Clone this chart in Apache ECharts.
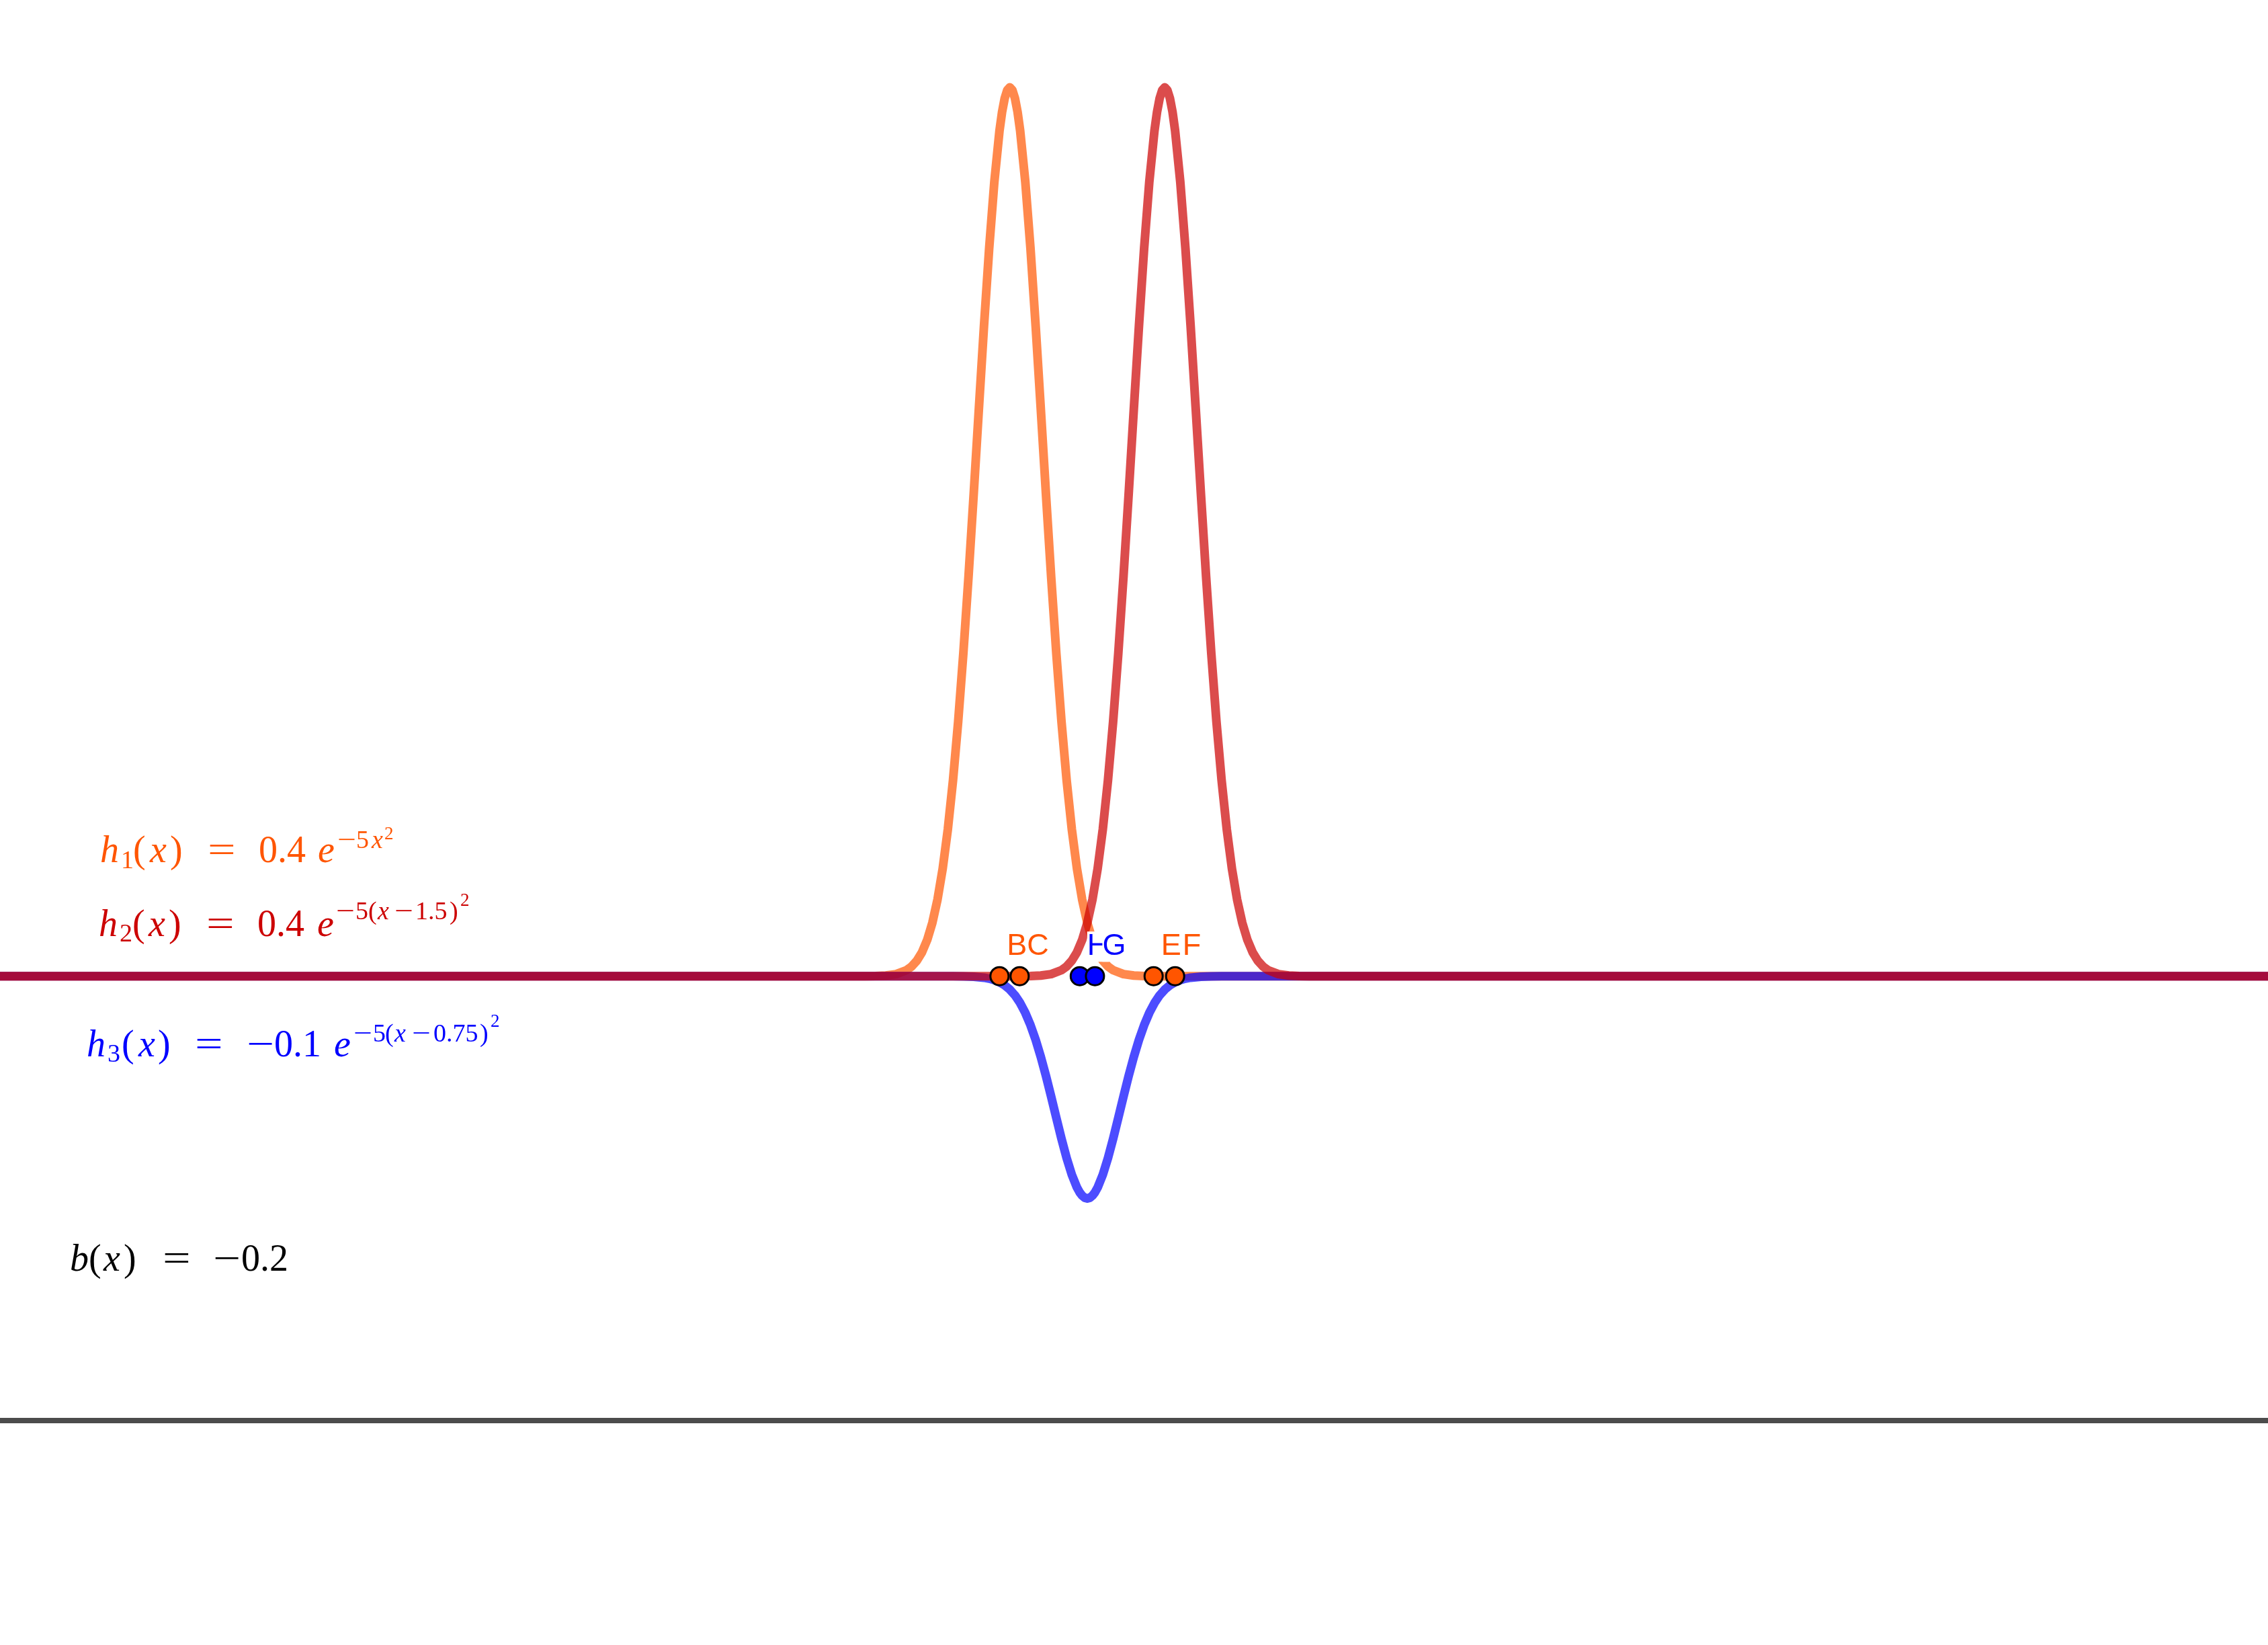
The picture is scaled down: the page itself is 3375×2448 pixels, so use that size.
<!DOCTYPE html>
<html>
<head>
<meta charset="utf-8">
<script src="https://cdn.jsdelivr.net/npm/echarts@6/dist/echarts.min.js"></script>
<style>
html,body{margin:0;padding:0;background:#fff;}
#main{width:3375px;height:2448px;}
</style>
</head>
<body>
<div id="main"></div>
<script>
// ---- data ----
const h1X = [-10, -1.4, -1.3, -1.2, -1.1, -1.0, -0.95, -0.9, -0.85, -0.8, -0.75, -0.7, -0.65, -0.6, -0.55, -0.5, -0.45, -0.4, -0.35, -0.3, -0.25, -0.2, -0.15, -0.1, -0.075, -0.05, -0.025, 0, 0.025, 0.05, 0.075, 0.1, 0.15, 0.2, 0.25, 0.3, 0.35, 0.4, 0.45, 0.5, 0.55, 0.6, 0.65, 0.7, 0.75, 0.8, 0.85, 0.9, 0.95, 1.0, 1.1, 1.2, 1.3, 1.4, 12.5];
const h1Y = [0, 0.00002, 0.00009, 0.0003, 0.00094, 0.0027, 0.00439, 0.00697, 0.01079, 0.0163, 0.02402, 0.03452, 0.04837, 0.06612, 0.08814, 0.1146, 0.14532, 0.17973, 0.2168, 0.25505, 0.29264, 0.32749, 0.35744, 0.38049, 0.38891, 0.39503, 0.39875, 0.4, 0.39875, 0.39503, 0.38891, 0.38049, 0.35744, 0.32749, 0.29264, 0.25505, 0.2168, 0.17973, 0.14532, 0.1146, 0.08814, 0.06612, 0.04837, 0.03452, 0.02402, 0.0163, 0.01079, 0.00697, 0.00439, 0.0027, 0.00094, 0.0003, 0.00009, 0.00002, 0];

const h2X = [-10, 0.1, 0.2, 0.3, 0.4, 0.5, 0.55, 0.6, 0.65, 0.7, 0.75, 0.8, 0.85, 0.9, 0.95, 1.0, 1.05, 1.1, 1.15, 1.2, 1.25, 1.3, 1.35, 1.4, 1.425, 1.45, 1.475, 1.5, 1.525, 1.55, 1.575, 1.6, 1.65, 1.7, 1.75, 1.8, 1.85, 1.9, 1.95, 2.0, 2.05, 2.1, 2.15, 2.2, 2.25, 2.3, 2.35, 2.4, 2.45, 2.5, 2.6, 2.7, 2.8, 2.9, 12.5];
const h2Y = [0, 0.00002, 0.00009, 0.0003, 0.00094, 0.0027, 0.00439, 0.00697, 0.01079, 0.0163, 0.02402, 0.03452, 0.04837, 0.06612, 0.08814, 0.1146, 0.14532, 0.17973, 0.2168, 0.25505, 0.29264, 0.32749, 0.35744, 0.38049, 0.38891, 0.39503, 0.39875, 0.4, 0.39875, 0.39503, 0.38891, 0.38049, 0.35744, 0.32749, 0.29264, 0.25505, 0.2168, 0.17973, 0.14532, 0.1146, 0.08814, 0.06612, 0.04837, 0.03452, 0.02402, 0.0163, 0.01079, 0.00697, 0.00439, 0.0027, 0.00094, 0.0003, 0.00009, 0.00002, 0];

const h3X = [-10, -0.65, -0.55, -0.45, -0.35, -0.25, -0.2, -0.15, -0.1, -0.05, 0, 0.05, 0.1, 0.15, 0.2, 0.25, 0.3, 0.35, 0.4, 0.45, 0.5, 0.55, 0.6, 0.65, 0.675, 0.7, 0.725, 0.75, 0.775, 0.8, 0.825, 0.85, 0.9, 0.95, 1.0, 1.05, 1.1, 1.15, 1.2, 1.25, 1.3, 1.35, 1.4, 1.45, 1.5, 1.55, 1.6, 1.65, 1.7, 1.75, 1.85, 1.95, 2.05, 2.15, 12.5];
const h3Y = [0, -0.000005, -0.00002, -0.00007, -0.00024, -0.00067, -0.0011, -0.00174, -0.0027, -0.00408, -0.00601, -0.00863, -0.01209, -0.01653, -0.02204, -0.02865, -0.03633, -0.04493, -0.0542, -0.06376, -0.07316, -0.08187, -0.08936, -0.09512, -0.09723, -0.09876, -0.09969, -0.1, -0.09969, -0.09876, -0.09723, -0.09512, -0.08936, -0.08187, -0.07316, -0.06376, -0.0542, -0.04493, -0.03633, -0.02865, -0.02204, -0.01653, -0.01209, -0.00863, -0.00601, -0.00408, -0.0027, -0.00174, -0.0011, -0.00067, -0.00024, -0.00007, -0.00002, -0.000005, 0];

const bX = [-10, 12.5];
const bY = [-0.2, -0.2];

const pointNames = ['B', 'C', 'H', 'G', 'E', 'F'];
const pointX = [-0.1, 0.095, 0.677, 0.824, 1.392, 1.6];
const pointY = [0, 0, 0, 0, 0, 0];

// ---- styles ----
const pointColors = ['#FF5500', '#FF5500', '#0000FF', '#0000FF', '#FF5500', '#FF5500'];
const X_MIN = -9.775, X_MAX = 12.179;
const Y_MIN = -0.30099, Y_MAX = 0.43931;

const mctx = document.createElement('canvas').getContext('2d');
function midToBase(font) {
  mctx.font = font;
  mctx.textBaseline = 'middle';
  return mctx.measureText('H').actualBoundingBoxDescent;
}
function zip(xs, ys) { return xs.map((x, i) => [x, ys[i]]); }

const M = '\u2212';
// formula text layout: [text, x, baseline, size, italic, scaleX]
const formulas = [
  { color: '#FF5500', tokens: [
    ['h', 149, 1283, 56, 1], ['1', 180, 1292, 38, 0], ['(', 198, 1283, 56, 0], ['x', 223, 1283, 56, 1], [')', 253, 1283, 56, 0],
    ['=', 309, 1283, 56, 0, 1.32], ['0.4', 385, 1283, 56, 0], ['e', 473, 1283, 56, 1],
    [M, 502, 1262, 38, 0, 1.3], ['5', 530, 1262, 38, 0], ['x', 553, 1262, 38, 1], ['2', 572, 1249, 27, 0]
  ]},
  { color: '#CC0000', tokens: [
    ['h', 147, 1393, 56, 1], ['2', 178, 1401, 38, 0], ['(', 197, 1393, 56, 0], ['x', 221, 1393, 56, 1], [')', 251, 1393, 56, 0],
    ['=', 307, 1393, 56, 0, 1.32], ['0.4', 383, 1393, 56, 0], ['e', 472, 1393, 56, 1],
    [M, 500, 1368, 38, 0, 1.3], ['5', 529, 1368, 38, 0], ['(', 548, 1368, 38, 0], ['x', 562, 1368, 38, 1], [M, 587, 1368, 38, 0, 1.3],
    ['1.5', 618, 1368, 38, 0], [')', 669, 1368, 38, 0], ['2', 685, 1348, 27, 0]
  ]},
  { color: '#0000FF', tokens: [
    ['h', 129, 1572, 56, 1], ['3', 160, 1580, 38, 0], ['(', 181, 1572, 56, 0], ['x', 206, 1572, 56, 1], [')', 235, 1572, 56, 0],
    ['=', 290, 1572, 56, 0, 1.32], [M, 367, 1572, 56, 0, 1.3], ['0.1', 408, 1572, 56, 0], ['e', 497, 1572, 56, 1],
    [M, 526, 1550, 38, 0, 1.3], ['5', 555, 1550, 38, 0], ['(', 573, 1550, 38, 0], ['x', 587, 1550, 38, 1], [M, 613, 1550, 38, 0, 1.3],
    ['0.75', 645, 1550, 38, 0], [')', 714, 1550, 38, 0], ['2', 730, 1528, 27, 0]
  ]},
  { color: '#000000', tokens: [
    ['b', 104, 1891, 56, 1], ['(', 132, 1891, 56, 0], ['x', 154, 1891, 56, 1], [')', 184, 1891, 56, 0],
    ['=', 242, 1891, 56, 0, 1.32], [M, 317, 1891, 56, 0, 1.3], ['0.2', 359, 1891, 56, 0]
  ]}
];

const graphics = [];
formulas.forEach(f => {
  f.tokens.forEach(t => {
    const font = (t[4] ? 'italic ' : '') + t[3] + 'px "Liberation Serif"';
    const d = midToBase(font);
    graphics.push({
      type: 'text', x: t[1], y: t[2] - d, scaleX: t[5] || 1, silent: true, z: 100,
      style: { text: t[0], font: font, fill: f.color, align: 'left', verticalAlign: 'middle', textAlign: 'left', textVerticalAlign: 'middle' }
    });
  });
});

const labelFont = '45px "Liberation Sans"';
const dSans = midToBase(labelFont);
const SYM = 27;

const chart = echarts.init(document.getElementById('main'), null, { renderer: 'canvas' });
chart.setOption({
  animation: false,
  backgroundColor: '#ffffff',
  grid: { left: 0, right: 0, top: 0, bottom: 0 },
  xAxis: { type: 'value', min: X_MIN, max: X_MAX, show: false },
  yAxis: { type: 'value', min: Y_MIN, max: Y_MAX, show: false },
  series: [
    { type: 'line', name: 'b', data: zip(bX, bY), symbol: 'none', silent: true, z: 1,
      lineStyle: { color: 'rgba(0,0,0,0.7)', width: 8 } },
    { type: 'line', name: 'h1', data: zip(h1X, h1Y), symbol: 'none', silent: true, z: 2,
      lineStyle: { color: 'rgba(255,85,0,0.7)', width: 13, cap: 'round', join: 'round' } },
    { type: 'line', name: 'h3', data: zip(h3X, h3Y), symbol: 'none', silent: true, z: 3,
      lineStyle: { color: 'rgba(0,0,255,0.7)', width: 13, cap: 'round', join: 'round' } },
    { type: 'line', name: 'h2', data: zip(h2X, h2Y), symbol: 'none', silent: true, z: 4,
      lineStyle: { color: 'rgba(204,0,0,0.7)', width: 13, cap: 'round', join: 'round' } },
    { type: 'scatter', name: 'points', z: 10, silent: true, symbol: 'circle', symbolSize: SYM,
      data: pointNames.map((n, i) => ({
        name: n, value: [pointX[i], pointY[i]],
        itemStyle: { color: pointColors[i], borderColor: '#000', borderWidth: 3, opacity: 1 },
        label: { color: pointColors[i] }
      })),
      label: {
        show: true, formatter: '{b}', font: labelFont, fontFamily: 'Liberation Sans', fontSize: 45,
        position: [SYM / 2 + 12.5, SYM / 2 - 30 - dSans], align: 'left', verticalAlign: 'middle',
        backgroundColor: '#ffffff', padding: 0
      },
      labelLayout: { hideOverlap: false }
    }
  ],
  graphic: graphics
});
</script>
</body>
</html>
